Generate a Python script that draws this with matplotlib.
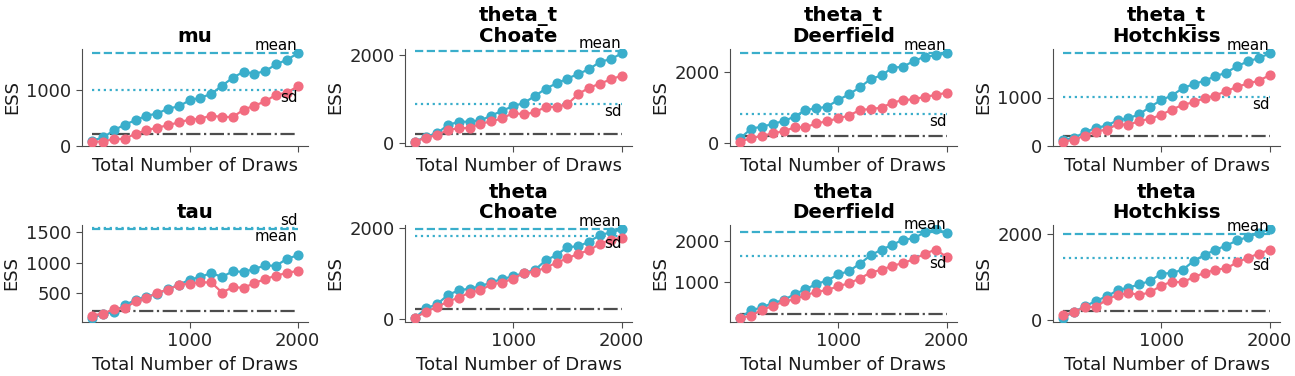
import numpy as np
import matplotlib
matplotlib.use("Agg")
import matplotlib.pyplot as plt

# ---- data ----
draws = [100, 200, 300, 400, 500, 600, 700, 800, 900, 1000,
         1100, 1200, 1300, 1400, 1500, 1600, 1700, 1800, 1900, 2000]

titles = ["mu", "theta_t\nChoate", "theta_t\nDeerfield", "theta_t\nHotchkiss",
          "tau", "theta\nChoate", "theta\nDeerfield", "theta\nHotchkiss"]

bulk_mu = [95, 150, 278, 379, 456, 538, 574, 663, 704, 811, 858, 923, 1071, 1213, 1320, 1284, 1331, 1450, 1533, 1645]
tail_mu = [77, 77, 124, 124, 219, 278, 325, 367, 420, 467, 485, 538, 515, 515, 645, 716, 793, 911, 947, 1059]

bulk_tt_choate = [38, 153, 229, 412, 489, 489, 519, 626, 740, 840, 916, 1069, 1237, 1359, 1466, 1573, 1679, 1847, 1908, 2038]
tail_tt_choate = [38, 130, 183, 305, 336, 351, 443, 496, 565, 687, 656, 702, 824, 824, 885, 1115, 1260, 1351, 1450, 1534]

bulk_tt_deerfield = [140, 409, 465, 540, 623, 744, 930, 977, 1023, 1209, 1367, 1563, 1795, 1898, 2112, 2140, 2307, 2419, 2456, 2512]
tail_tt_deerfield = [47, 149, 205, 279, 335, 447, 447, 558, 614, 698, 772, 930, 958, 995, 1135, 1209, 1228, 1302, 1349, 1414]

bulk_tt_hotchkiss = [117, 172, 283, 372, 421, 531, 572, 655, 807, 945, 1041, 1193, 1276, 1345, 1441, 1510, 1648, 1745, 1814, 1910]
tail_tt_hotchkiss = [90, 131, 214, 297, 338, 448, 434, 517, 559, 641, 752, 848, 903, 986, 1041, 1131, 1221, 1290, 1345, 1462]

bulk_tau = [100, 156, 194, 306, 389, 444, 489, 567, 639, 722, 767, 833, 767, 861, 850, 900, 956, 950, 1067, 1122]
tail_tau = [133, 167, 239, 256, 367, 417, 511, 556, 639, 656, 678, 678, 511, 600, 589, 667, 733, 789, 833, 867]

bulk_th_choate = [36, 240, 327, 531, 633, 669, 720, 807, 880, 938, 1011, 1076, 1287, 1404, 1578, 1593, 1695, 1840, 1898, 1964]
tail_th_choate = [36, 167, 269, 385, 473, 582, 633, 764, 800, 887, 1011, 1040, 1127, 1236, 1331, 1433, 1505, 1651, 1738, 1782]

bulk_th_deerfield = [116, 298, 364, 479, 545, 694, 810, 942, 1025, 1174, 1256, 1438, 1645, 1785, 1901, 2033, 2058, 2223, 2281, 2198]
tail_th_deerfield = [116, 157, 314, 397, 512, 562, 669, 744, 793, 884, 959, 1074, 1223, 1289, 1388, 1455, 1554, 1686, 1785, 1603]

bulk_th_hotchkiss = [62, 200, 323, 446, 554, 692, 754, 831, 908, 1077, 1092, 1169, 1369, 1508, 1631, 1723, 1846, 1923, 2015, 2100]
tail_th_hotchkiss = [115, 192, 308, 308, 477, 585, 631, 585, 646, 800, 892, 877, 1000, 1092, 1169, 1200, 1338, 1446, 1538, 1631]

ess_mean = [1651, 2084, 2530, 1910, 1548, 1975, 2207, 2000]
ess_sd = [994, 901, 819, 1007, 1570, 1818, 1620, 1446]
min_ess = 215

bulk_series = [bulk_mu, bulk_tt_choate, bulk_tt_deerfield, bulk_tt_hotchkiss,
               bulk_tau, bulk_th_choate, bulk_th_deerfield, bulk_th_hotchkiss]
tail_series = [tail_mu, tail_tt_choate, tail_tt_deerfield, tail_tt_hotchkiss,
               tail_tau, tail_th_choate, tail_th_deerfield, tail_th_hotchkiss]

yticks = [[0, 1000], [0, 2000], [0, 2000], [0, 1000],
          [500, 1000, 1500], [0, 2000], [1000, 2000], [0, 2000]]
xticks = [1000, 2000]

# ---- style ----
C_BULK = "#3aaecb"
C_TAIL = "#f26c80"
FS = 13
FS_TITLE = 14.2
FS_TXT = 10.8

fig = plt.figure(figsize=(12.95, 3.76), dpi=100)
W, H = 1295.0, 376.0
lefts = [82, 405, 730, 1053]
widths = [226, 227, 227, 227]
rows = [(49, 146), (225, 322)]

for i in range(8):
    r, c = divmod(i, 4)
    top, bot = rows[r]
    ax = fig.add_axes([lefts[c] / W, 1 - bot / H, widths[c] / W, (bot - top) / H])
    x = np.array(draws)
    ax.plot(x, bulk_series[i], "-o", color=C_BULK, lw=1.6, ms=6.3, zorder=3)
    ax.plot(x, tail_series[i], "-o", color=C_TAIL, lw=1.6, ms=6.3, zorder=3)
    ax.axhline(ess_mean[i], color=C_BULK, ls="--", lw=1.6, xmin=0.05 / 1.1, xmax=1.05 / 1.1)
    ax.axhline(ess_sd[i], color=C_BULK, ls=":", lw=1.6, xmin=0.05 / 1.1, xmax=1.05 / 1.1)
    ax.axhline(min_ess, color="0.3", ls="-.", lw=1.6, xmin=0.05 / 1.1, xmax=1.05 / 1.1)
    if ess_mean[i] >= ess_sd[i]:
        va_mean, va_sd = "bottom", "top"
    else:
        va_mean, va_sd = "top", "bottom"
    ax.text(draws[-1], ess_mean[i], "mean", ha="right", va=va_mean, fontsize=FS_TXT)
    ax.text(draws[-1], ess_sd[i], "sd", ha="right", va=va_sd, fontsize=FS_TXT)
    ax.set_xlim(draws[0] - 0.05 * (draws[-1] - draws[0]), draws[-1] + 0.05 * (draws[-1] - draws[0]))
    ax.set_xticks(xticks)
    ax.set_yticks(yticks[i])
    ax.tick_params(labelsize=FS, colors="0.3", labelcolor="0.15", length=4)
    if r == 0:
        ax.tick_params(labelbottom=False)
    for s in ["top", "right"]:
        ax.spines[s].set_visible(False)
    for s in ["left", "bottom"]:
        ax.spines[s].set_color("0.3")
    ax.set_title(titles[i], fontsize=FS_TITLE, fontweight="bold", linespacing=1.1, pad=5)
    ax.set_xlabel("Total Number of Draws", fontsize=FS, color="0.1")
    ax.set_ylabel("ESS", fontsize=FS, color="0.1")

fig.savefig("out.png", dpi=100)
